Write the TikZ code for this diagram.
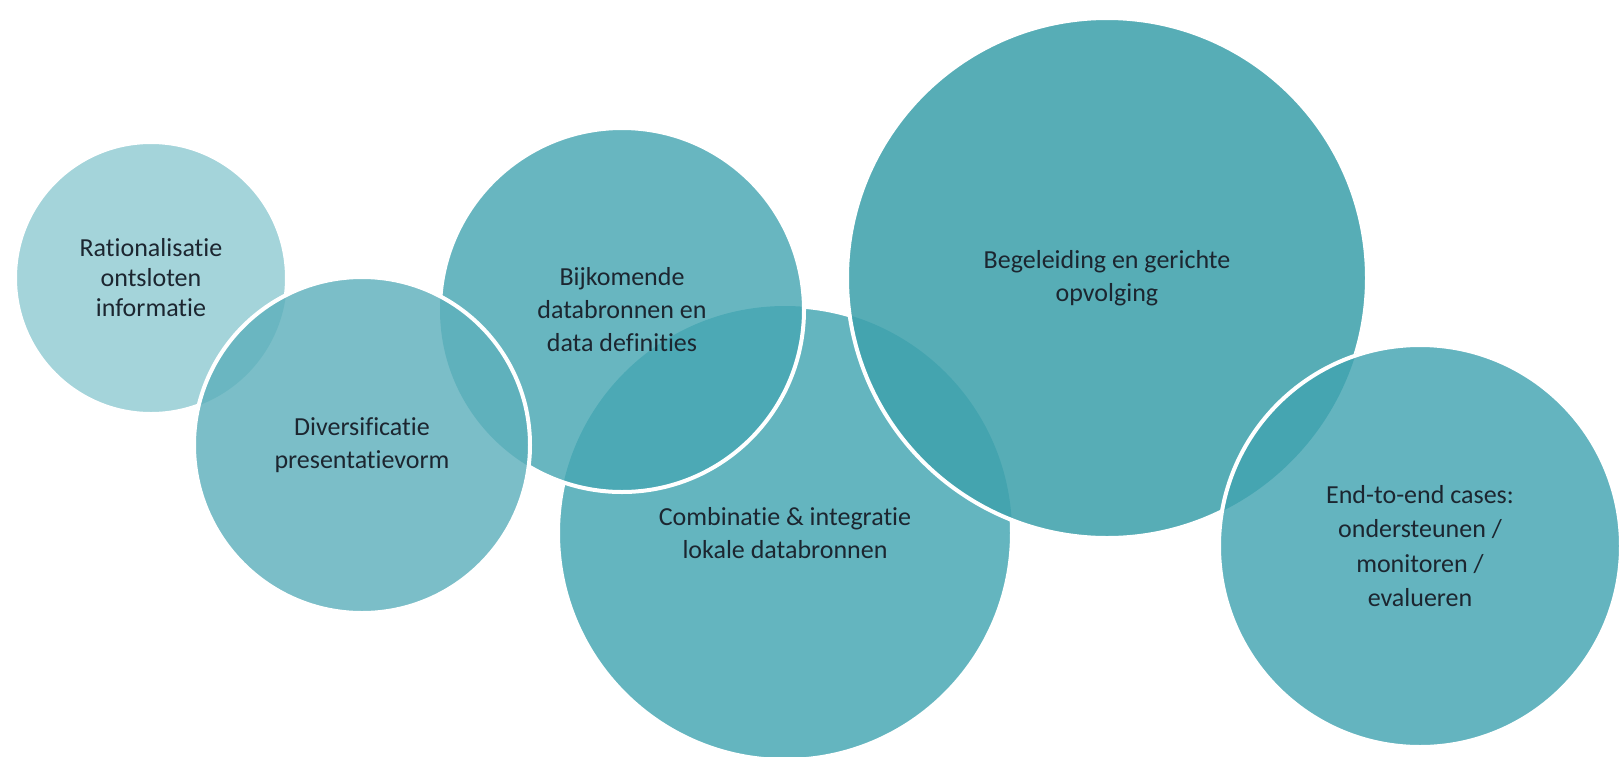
\documentclass[tikz,border=0pt]{standalone}
\usepackage{fontspec}
\setmainfont[Ligatures={CommonOff,ContextualOff}]{Carlito}
\definecolor{txt}{RGB}{28,38,48}
\definecolor{cRat}{RGB}{145,203,210}
\definecolor{cDiv}{RGB}{94,176,188}
\definecolor{cBij}{RGB}{71,167,179}
\definecolor{cComb}{RGB}{67,165,177}
\definecolor{cBeg}{RGB}{64,162,173}
\definecolor{cEnd}{RGB}{66,164,177}
\tikzset{
  bubble/.style={circle, inner sep=0pt, fill opacity=0.82, text opacity=1,
    align=center, text=txt, font=\fontsize{13}{16.5}\selectfont},
  ring/.style={draw=white, line width=2pt},
}
\begin{document}
\begin{tikzpicture}[x=0.5pt,y=-0.5pt]
\useasboundingbox (0,0) rectangle (1619,756);
\fill[white] (0,0) rectangle (1619,756);

% Rationalisatie
\node[bubble, fill=cRat, minimum size=136pt, font=\fontsize{13}{15}\selectfont] (rat) at (151,278)
  {Rationalisatie\\ontsloten\\informatie};
\begin{scope}[even odd rule]
  \clip (-20,-20) rectangle (1640,780) (362,445) circle[radius=168];
  \draw[ring] (rat.center) circle[radius=136];
\end{scope}

% Combinatie
\node[bubble, fill=cComb, minimum size=227pt] (comb) at (785,533)
  {Combinatie \& integratie\\lokale databronnen};
\begin{scope}[even odd rule]
  \clip (-20,-20) rectangle (1640,780) (622,310) circle[radius=182] (1107,278) circle[radius=260];
  \draw[ring] (comb.center) circle[radius=227];
\end{scope}

% Bijkomende
\node[bubble, fill=cBij, minimum size=182pt] (bij) at (622,310)
  {Bijkomende\\databronnen en\\data definities};
\begin{scope}[even odd rule]
  \clip (-20,-20) rectangle (1640,780) (362,445) circle[radius=168];
  \draw[ring] (bij.center) circle[radius=182];
\end{scope}

% Diversificatie
\node[bubble, fill=cDiv, minimum size=168pt] (div) at (362,445)
  {Diversificatie\\presentatievorm};
\draw[ring] (div.center) circle[radius=168];

% Begeleiding
\node[bubble, fill=cBeg, fill opacity=0.88, minimum size=260pt] (beg) at (1107,278)
  {Begeleiding en gerichte\\opvolging};
\begin{scope}[even odd rule]
  \clip (-20,-20) rectangle (1640,780) (1420,544) circle[radius=201];
  \draw[ring] (beg.center) circle[radius=260];
\end{scope}

% End-to-end
\node[bubble, fill=cEnd, minimum size=201pt, font=\fontsize{13}{17.3}\selectfont] (end) at (1420,546)
  {End-to-end cases:\\ondersteunen /\\monitoren /\\evalueren};
\draw[ring] (end.center) circle[radius=201];
\end{tikzpicture}
\end{document}
